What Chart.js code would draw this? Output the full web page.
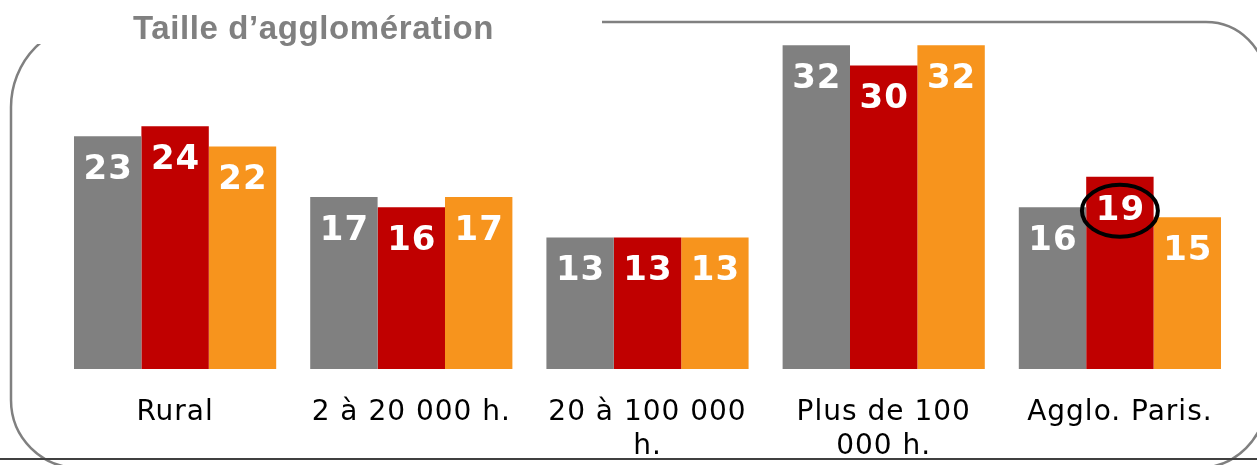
<!DOCTYPE html>
<html>
<head>
<meta charset="utf-8">
<script src="https://cdn.jsdelivr.net/npm/chart.js@4.4.0/dist/chart.umd.min.js"></script>
<style>
  html, body { margin: 0; padding: 0; background: #fff; overflow: hidden; }
</style>
</head>
<body>
<canvas id="sizeChart" width="1257" height="465"></canvas>
<script>
// Donnees
const titre = 'Taille d’agglomération';
const categories = ['Rural', '2 à 20 000 h.', ['20 à 100 000', 'h.'], ['Plus de 100', '000 h.'], 'Agglo. Paris.'];
const serieGris = [23, 17, 13, 32, 16];
const serieRouge = [24, 16, 13, 30, 19];
const serieOrange = [22, 17, 13, 32, 15];
const cercle = { dataset: 1, index: 4 }; // valeur entouree

// cadre arrondi + titre
const cadre = {
  id: 'cadre',
  beforeDraw(chart) {
    const ctx = chart.ctx;
    ctx.save();
    ctx.strokeStyle = '#808080';
    ctx.lineWidth = 2.5;
    ctx.beginPath();
    ctx.roundRect(11, 22, 1255, 446, [85, 60, 68, 68]);
    ctx.stroke();
    ctx.fillStyle = '#fff';
    ctx.fillRect(22, 0, 580, 44);
    ctx.strokeStyle = '#404040';
    ctx.lineWidth = 2;
    ctx.beginPath();
    ctx.moveTo(0, 459);
    ctx.lineTo(1257, 459);
    ctx.stroke();
    ctx.fillStyle = '#808080';
    ctx.font = 'bold 33px "Liberation Sans", Arial, sans-serif';
    ctx.letterSpacing = '0.6px';
    ctx.textBaseline = 'alphabetic';
    ctx.fillText(titre, 133, 39);
    ctx.restore();
    // espacement des libelles de l'axe
    ctx.letterSpacing = '1px';
  }
};

// valeurs dans les barres
const etiquettes = {
  id: 'etiquettes',
  afterDatasetsDraw(chart) {
    const ctx = chart.ctx;
    ctx.save();
    ctx.letterSpacing = '1px';
    ctx.font = 'bold 34px "DejaVu Sans", Verdana, sans-serif';
    ctx.fillStyle = '#fff';
    ctx.textAlign = 'center';
    ctx.textBaseline = 'middle';
    chart.data.datasets.forEach(function(ds, i){
      chart.getDatasetMeta(i).data.forEach(function(bar, j){
        const y = bar.y + 34;
        ctx.fillText(ds.data[j], bar.x + 0.5, y);
        if (i === cercle.dataset && j === cercle.index) {
          ctx.strokeStyle = '#000';
          ctx.lineWidth = 4;
          ctx.beginPath();
          ctx.ellipse(bar.x, y, 38, 26, 0, 0, Math.PI * 2);
          ctx.stroke();
        }
      });
    });
    ctx.restore();
  }
};

new Chart(document.getElementById('sizeChart'), {
  type: 'bar',
  data: {
    labels: categories,
    datasets: [
      { label: 'Gris', data: serieGris, backgroundColor: '#808080' },
      { label: 'Rouge', data: serieRouge, backgroundColor: '#C00000' },
      { label: 'Orange', data: serieOrange, backgroundColor: '#F7941D' }
    ]
  },
  options: {
    responsive: false,
    animation: false,
    layout: { padding: { left: 57, right: 19, top: 15, bottom: 0 } },
    datasets: { bar: { categoryPercentage: 0.856, barPercentage: 1 } },
    plugins: {
      legend: { display: false },
      tooltip: { enabled: false }
    },
    scales: {
      x: {
        grid: { display: false, drawTicks: false },
        border: { display: false },
        afterFit: function(scale){ scale.height = 96; },
        ticks: {
          color: '#000',
          padding: 27,
          maxRotation: 0,
          autoSkip: false,
          font: { family: '"DejaVu Sans", Verdana, sans-serif', size: 28, lineHeight: 1.2 }
        }
      },
      y: {
        display: false,
        min: 0,
        max: 35
      }
    }
  },
  plugins: [cadre, etiquettes]
});
</script>
</body>
</html>
